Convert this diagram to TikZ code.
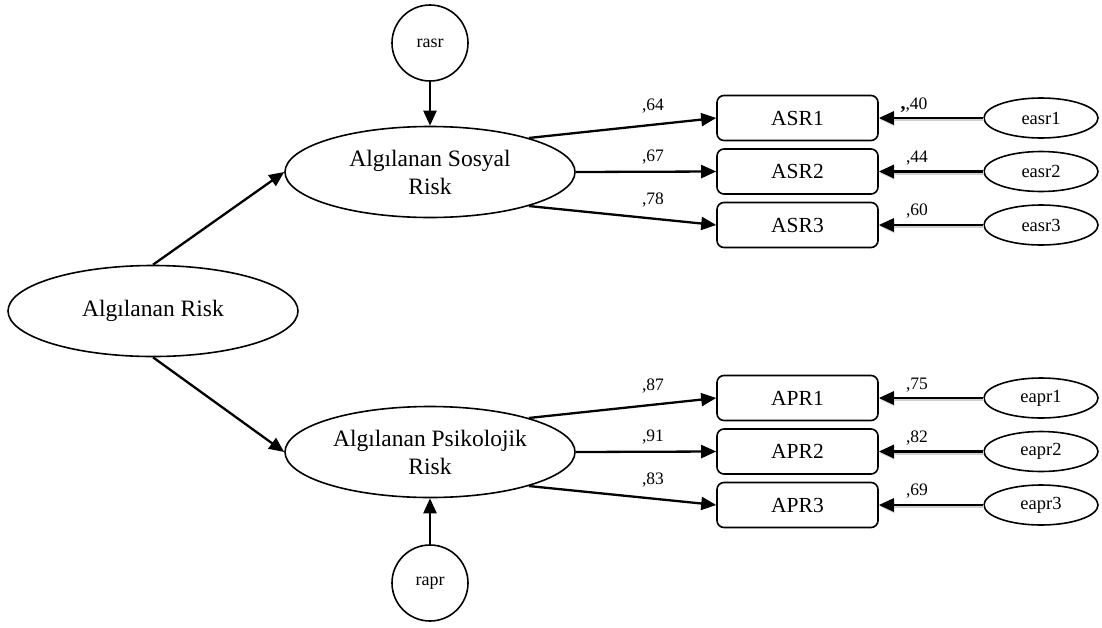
\documentclass[tikz,border=0pt]{standalone}
\usepackage{fontspec}
\setmainfont{Liberation Serif}
\usetikzlibrary{arrows.meta,shapes.geometric}
\tikzset{
  bigell/.style={draw, ellipse, line width=1.6pt, minimum width=290pt, minimum height=91pt, inner sep=0pt, align=center, font=\fontsize{23.5}{28}\selectfont},
  resid/.style={draw, circle, line width=1.6pt, minimum size=76pt, inner sep=0pt, font=\fontsize{18}{20}\selectfont},
  errell/.style={draw, ellipse, line width=1.6pt, minimum width=114pt, minimum height=40pt, inner sep=0pt, font=\fontsize{18.5}{20}\selectfont},
  ind/.style={draw, rounded corners=7pt, line width=1.6pt, minimum width=161pt, minimum height=45pt, inner sep=0pt, font=\fontsize{21.5}{24}\selectfont},
  path/.style={line width=2.3pt, -{Triangle[length=15pt,width=13pt]}},
  errpath/.style={line width=2.8pt, -{Triangle[length=15pt,width=13pt]},
    preaction={draw=black!18, line width=3.2pt, transform canvas={shift={(0.8pt,-1.4pt)}}}},
  lab/.style={font=\fontsize{17.5}{18}\selectfont, inner sep=0pt}
}
\begin{document}
\begin{tikzpicture}[x=1pt,y=-1pt]
\useasboundingbox (0,0) rectangle (1102,627);
% latent variables
\node[bigell] (risk) at (153,311) {Algılanan Risk};
\node[bigell] (sos) at (430,172) {Algılanan Sosyal\\Risk};
\node[bigell] (psi) at (430,452) {Algılanan Psikolojik\\Risk};
\node[resid] (rasr) at (430,43) {rasr};
\node[resid] (rapr) at (430,583) {rapr};
% indicators
\node[ind] (asr1) at (797.5,118) {ASR1};
\node[ind] (asr2) at (797.5,171.5) {ASR2};
\node[ind] (asr3) at (797.5,225) {ASR3};
\node[ind] (apr1) at (797.5,398) {APR1};
\node[ind] (apr2) at (797.5,451.5) {APR2};
\node[ind] (apr3) at (797.5,505) {APR3};
% errors
\node[errell] (e1) at (1041,118) {easr1};
\node[errell] (e2) at (1041,171.5) {easr2};
\node[errell] (e3) at (1041,225) {easr3};
\node[errell] (e4) at (1041,398) {eapr1};
\node[errell] (e5) at (1041,451.5) {eapr2};
\node[errell] (e6) at (1041,505) {eapr3};
% structural paths
\draw[path] (risk.north) -- (sos.west);
\draw[path] (risk.south) -- (psi.west);
\draw[path] (rasr.south) -- (sos.north);
\draw[path] (rapr.north) -- (psi.south);
% loadings
\draw[path] (sos.19) -- (asr1.west);
\draw[path] (sos.east) -- (asr2.west);
\draw[path] (sos.-19) -- (asr3.west);
\draw[path] (psi.19) -- (apr1.west);
\draw[path] (psi.east) -- (apr2.west);
\draw[path] (psi.-19) -- (apr3.west);
% error paths
\draw[errpath] (e1.west) -- (asr1.east);
\draw[errpath] (e2.west) -- (asr2.east);
\draw[errpath] (e3.west) -- (asr3.east);
\draw[errpath] (e4.west) -- (apr1.east);
\draw[errpath] (e5.west) -- (apr2.east);
\draw[errpath] (e6.west) -- (apr3.east);
% labels
\node[lab] (l1) at (653,106) {,64};
\node[lab] (l2) at (653,157) {,67};
\node[lab] (l3) at (653,200) {,78};
\node[lab] (l4) at (653,386) {,87};
\node[lab] (l5) at (653,437) {,91};
\node[lab] (l6) at (653,480) {,83};
\node[lab] (m1) at (914,105) {{\bfseries\fontsize{20}{20}\selectfont,},40};
\node[lab] (m2) at (917,158) {,44};
\node[lab] (m3) at (917,211) {,60};
\node[lab] (m4) at (917,385) {,75};
\node[lab] (m5) at (917,438) {,82};
\node[lab] (m6) at (917,491) {,69};
\end{tikzpicture}
\end{document}
